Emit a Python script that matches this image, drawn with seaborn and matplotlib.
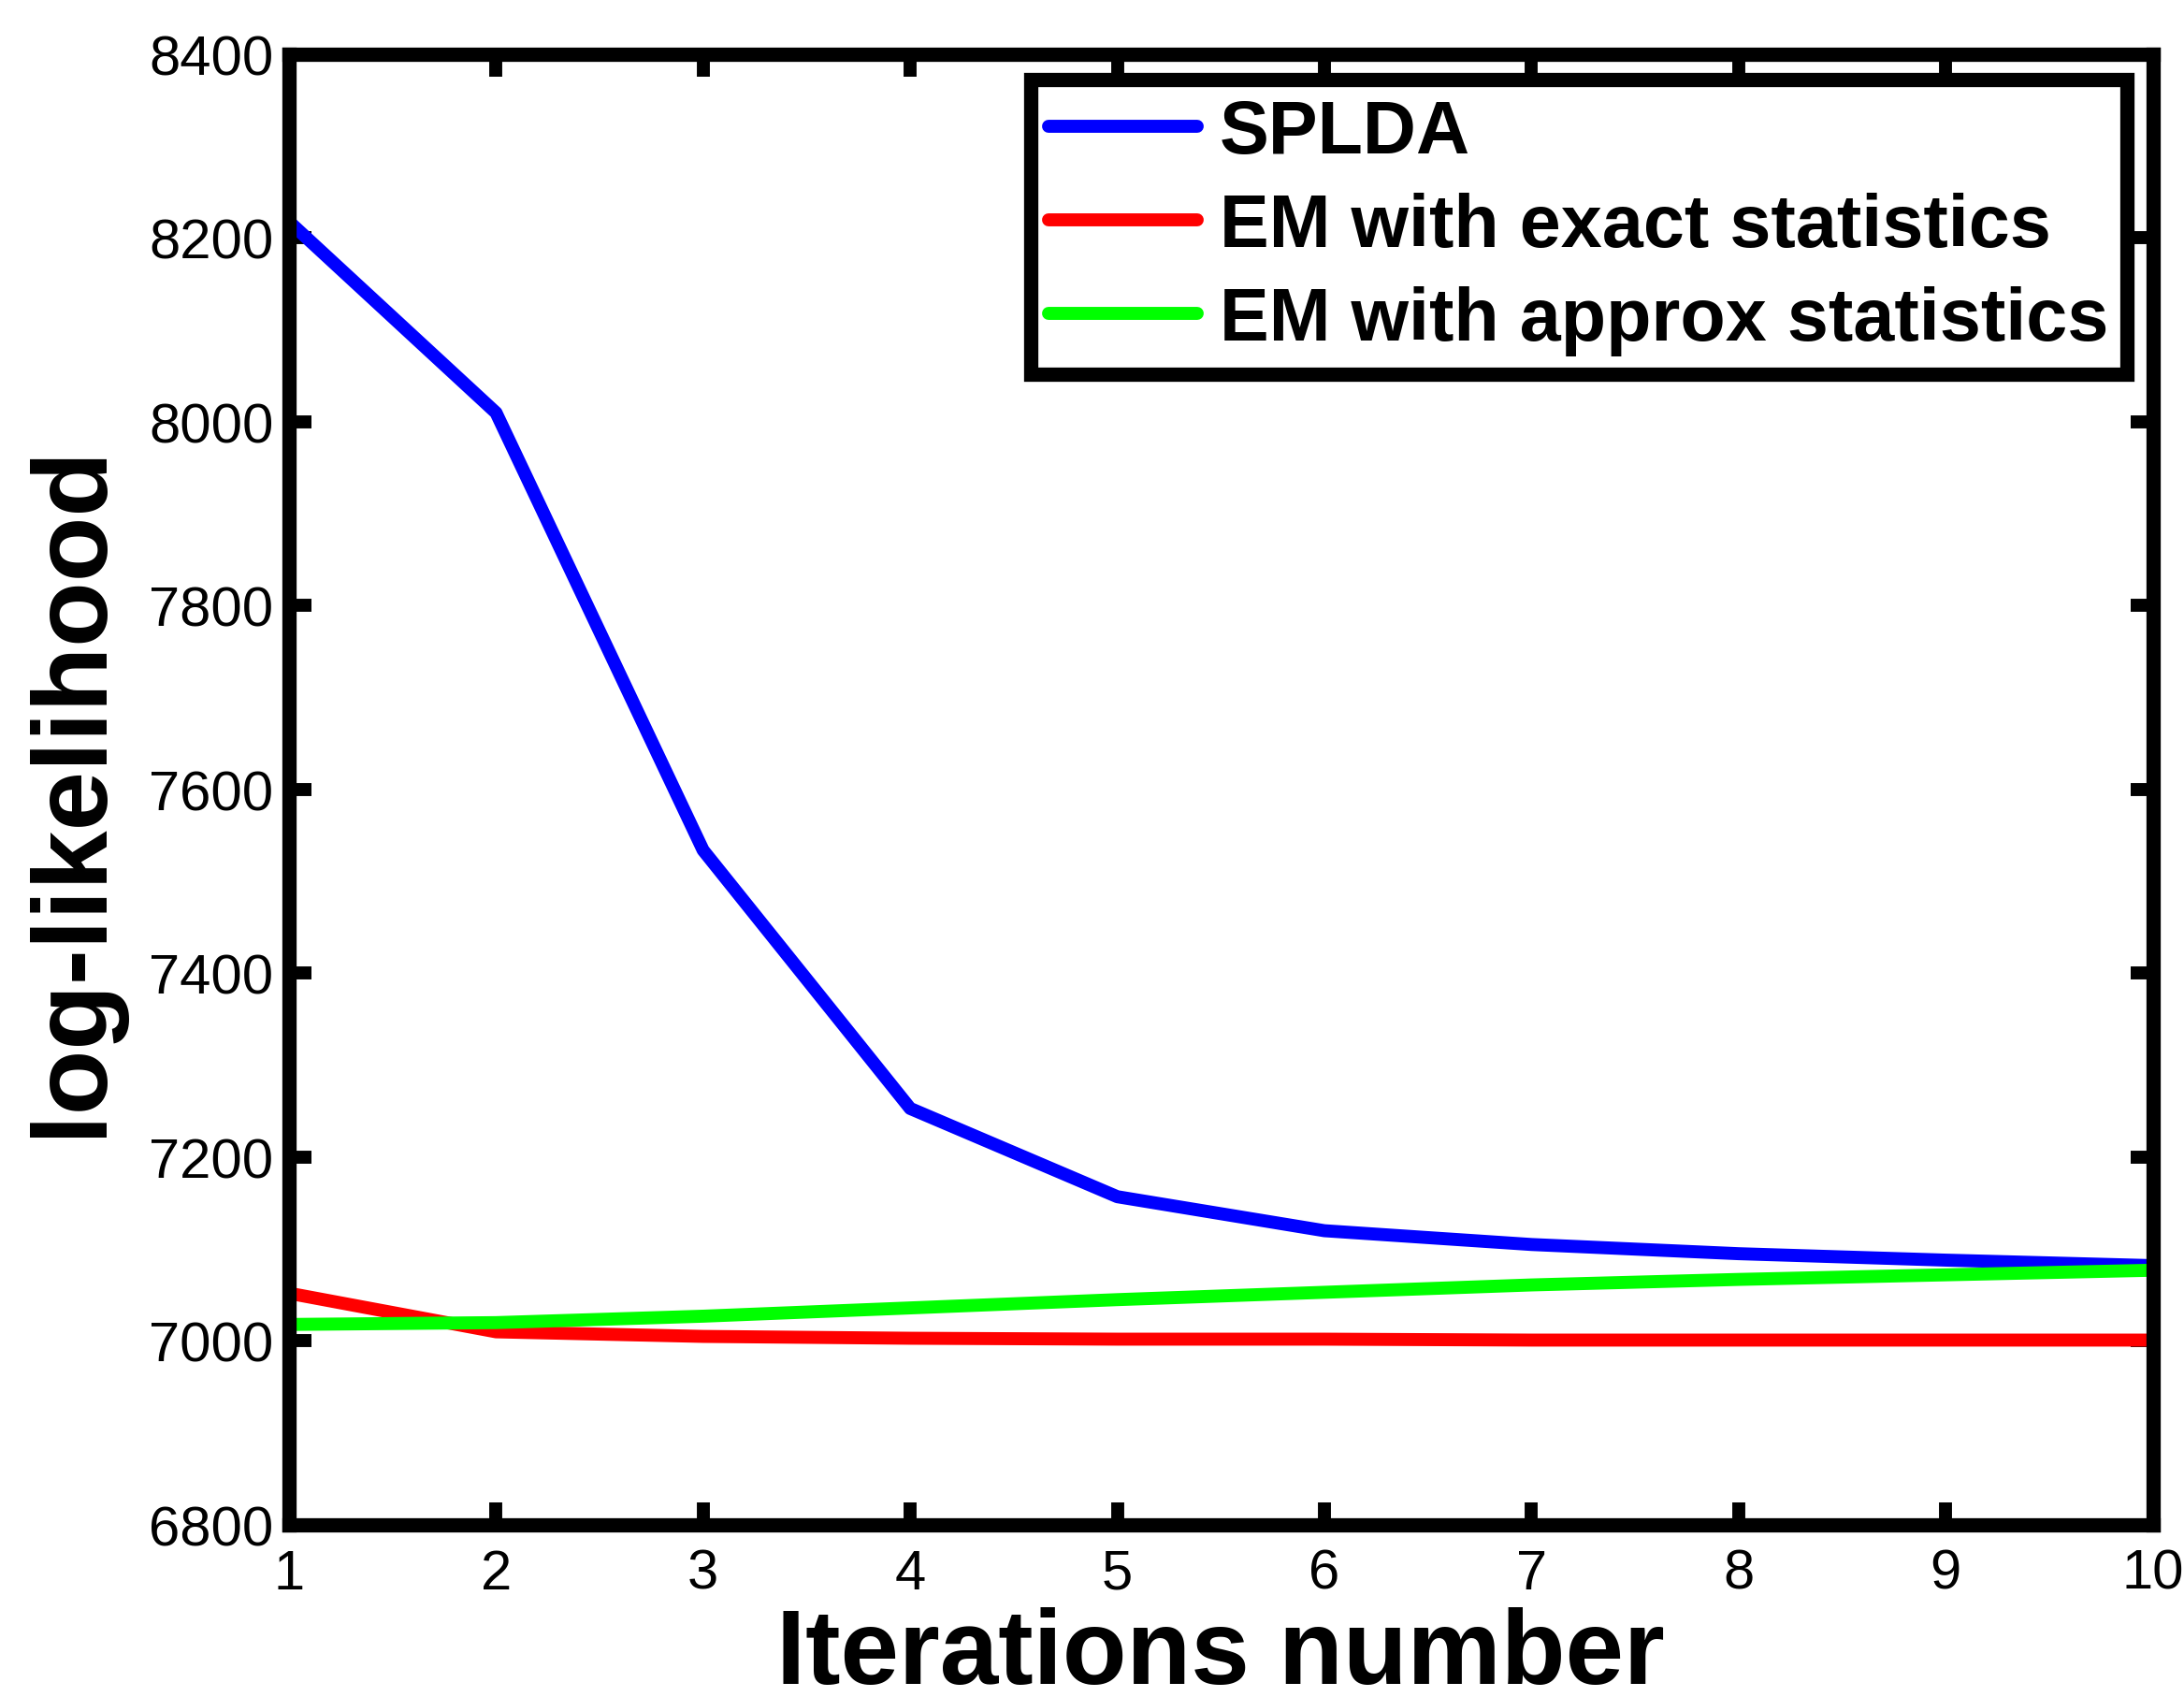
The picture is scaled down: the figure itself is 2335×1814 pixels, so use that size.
import matplotlib
matplotlib.use("Agg")
import matplotlib.pyplot as plt
import seaborn as sns
import pandas as pd

# values
iterations = [1, 2, 3, 4, 5, 6, 7, 8, 9, 10]
splda = [8218, 8010, 7534, 7253, 7157, 7120, 7105, 7095, 7088, 7082]
em_exact = [7052, 7010, 7005, 7003, 7002, 7002, 7001, 7001, 7001, 7001]
em_approx = [7018, 7020, 7027, 7036, 7045, 7053, 7061, 7067, 7072, 7077]

series_names = ["SPLDA", "EM with exact statistics", "EM with approx statistics"]
series_colors = ["#0000ff", "#ff0000", "#00ff00"]
y_ticks = [6800, 7000, 7200, 7400, 7600, 7800, 8000, 8200, 8400]

rows = []
for name, vals in zip(series_names, [splda, em_exact, em_approx]):
    for it, v in zip(iterations, vals):
        rows.append({"iteration": it, "loglik": v, "method": name})
df = pd.DataFrame(rows)

sns.set_style("ticks")
plt.rcParams['font.family'] = ['Liberation Sans', 'DejaVu Sans']
plt.rcParams['text.color'] = 'black'
plt.rcParams['axes.labelcolor'] = 'black'
plt.rcParams['xtick.color'] = 'black'
plt.rcParams['ytick.color'] = 'black'
plt.rcParams['axes.edgecolor'] = 'black'

fig = plt.figure(figsize=(23.35, 18.15), dpi=100)
ax = fig.add_axes([0.1323, 0.1014, 0.9857 - 0.1323, 0.9675 - 0.1014])

sns.lineplot(data=df, x="iteration", y="loglik", hue="method",
             hue_order=series_names, palette=series_colors,
             linewidth=10, ax=ax)

ax.set_xlim(1, 10)
ax.set_ylim(6800, 8400)
ax.set_xticks(iterations)
ax.set_yticks(y_ticks)

for sp in ax.spines.values():
    sp.set_linewidth(11)
    sp.set_visible(True)
    sp.set_color('black')
    sp.set_capstyle('projecting')

ax.tick_params(axis='both', which='major', direction='in', length=17, width=10,
               labelsize=43, top=True, right=True, color='black',
               labelcolor='black')
ax.tick_params(axis='x', pad=18)
ax.tick_params(axis='y', pad=12)

ax.set_xlabel("Iterations number", fontsize=81, fontweight='bold', labelpad=5)
ax.set_ylabel("log-likelihood", fontsize=82, fontweight='bold', labelpad=20)

leg = ax.legend(loc='upper right', bbox_to_anchor=(0.986, 0.983),
                borderaxespad=0, frameon=True, fancybox=False,
                prop={'size': 57, 'weight': 'bold'},
                handlelength=2.0, handletextpad=0.3, labelspacing=0.32,
                borderpad=0.25, edgecolor='black', framealpha=1)
leg.get_frame().set_linewidth(11)
for line in leg.get_lines():
    line.set_linewidth(10)

fig.savefig("out.png", dpi=100)
